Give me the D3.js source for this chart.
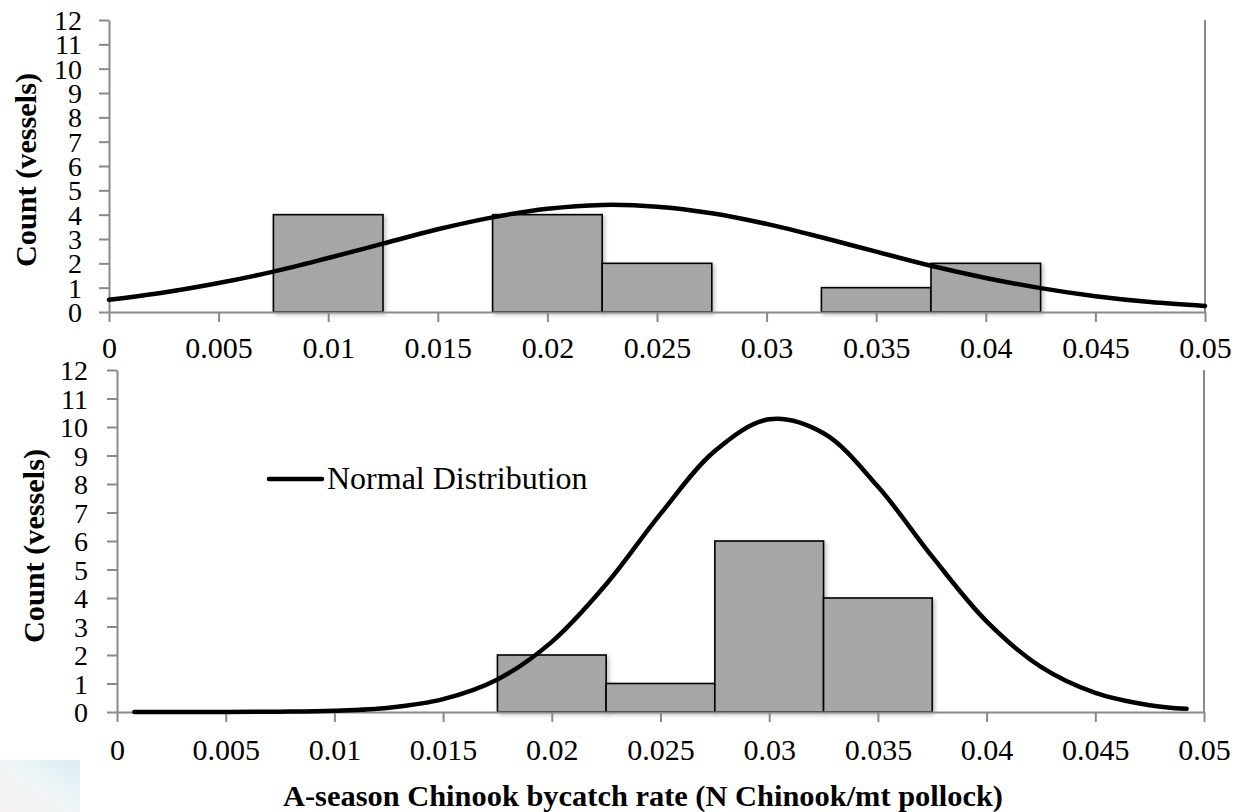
<!DOCTYPE html>
<html>
<head>
<meta charset="utf-8">
<script src="https://cdn.jsdelivr.net/npm/d3@7"></script>
<style>
  html, body { margin: 0; padding: 0; background: #ffffff; }
  svg { display: block; }
  text { font-family: "Liberation Serif", "Times New Roman", serif; fill: #000; }
</style>
</head>
<body>
<svg id="chart" width="1235" height="812"></svg>
<script>
// ---------------- DATA ----------------
const binWidth = 0.005;
const xTickValues = [0, 0.005, 0.01, 0.015, 0.02, 0.025, 0.03, 0.035, 0.04, 0.045, 0.05];
const xTickLabels = ["0", "0.005", "0.01", "0.015", "0.02", "0.025", "0.03", "0.035", "0.04", "0.045", "0.05"];
const yTickValues = [0, 1, 2, 3, 4, 5, 6, 7, 8, 9, 10, 11, 12];

// Top panel histogram (bin centres, counts)
const topBinCenters = [0.01, 0.02, 0.025, 0.035, 0.04];
const topCounts = [4, 4, 2, 1, 2];
// Top panel normal curve
const topCurveX = [0, 0.0025, 0.005, 0.0075, 0.01, 0.0125, 0.015, 0.0175, 0.02, 0.0225, 0.025, 0.0275, 0.03, 0.0325, 0.035, 0.0375, 0.04, 0.0425, 0.045, 0.0475, 0.05];
const topCurveY = [0.50, 0.80, 1.19, 1.66, 2.22, 2.81, 3.40, 3.89, 4.24, 4.40, 4.33, 4.06, 3.62, 3.07, 2.48, 1.90, 1.40, 0.98, 0.65, 0.41, 0.25];

// Bottom panel histogram
const botBinCenters = [0.02, 0.025, 0.03, 0.035];
const botCounts = [2, 1, 6, 4];
// Bottom panel normal curve
const botCurveX = [0.0008, 0.0025, 0.005, 0.0075, 0.01, 0.0125, 0.015, 0.0175, 0.02, 0.0225, 0.025, 0.0275, 0.03, 0.0325, 0.035, 0.0375, 0.04, 0.0425, 0.045, 0.0475, 0.0492];
const botCurveY = [0.0, 0.0, 0.002, 0.011, 0.044, 0.15, 0.45, 1.14, 2.46, 4.48, 6.95, 9.16, 10.27, 9.78, 7.91, 5.45, 3.18, 1.58, 0.67, 0.24, 0.11];

const yTitle = "Count (vessels)";
const xTitle = "A-season Chinook bycatch rate (N Chinook/mt pollock)";
const legendLabel = "Normal Distribution";

// ---------------- DRAW ----------------
const svg = d3.select("#chart");
const axisColor = "#898989";

const defs = svg.append("defs");
const sh = defs.append("filter").attr("id", "shadow").attr("x", "-10%").attr("y", "-10%").attr("width", "130%").attr("height", "130%");
sh.append("feDropShadow").attr("dx", 2).attr("dy", 2).attr("stdDeviation", 2)
  .attr("flood-color", "#000").attr("flood-opacity", 0.25);

const grad = defs.append("linearGradient").attr("id", "corner").attr("x1", "0").attr("y1", "1").attr("x2", "1").attr("y2", "0");
grad.append("stop").attr("offset", "0%").attr("stop-color", "#f7f1f1");
grad.append("stop").attr("offset", "55%").attr("stop-color", "#eef5f6");
grad.append("stop").attr("offset", "100%").attr("stop-color", "#d9edf3");
svg.append("rect").attr("x", 0).attr("y", 760).attr("width", 80).attr("height", 52).attr("fill", "url(#corner)");

function panel(cfg) {
  const x = d3.scaleLinear().domain([0, 0.05]).range([cfg.x0, cfg.x1]);
  const y = d3.scaleLinear().domain([0, 12]).range([cfg.y0, cfg.y1]);
  const g = svg.append("g");

  // right border line at x = 0.05
  g.append("line")
    .attr("x1", x(0.05)).attr("x2", x(0.05))
    .attr("y1", y(12)).attr("y2", y(0))
    .attr("stroke", axisColor).attr("stroke-width", 2);

  // bars
  g.append("g").selectAll("rect")
    .data(cfg.centers.map((c, i) => ({ c, v: cfg.counts[i] })))
    .join("rect")
    .attr("x", d => x(d.c - binWidth / 2))
    .attr("width", d => x(d.c + binWidth / 2) - x(d.c - binWidth / 2))
    .attr("y", d => y(d.v))
    .attr("height", d => y(0) - y(d.v))
    .attr("fill", "#a6a6a6")
    .attr("stroke", "#000")
    .attr("stroke-width", 1.6)
    .attr("filter", "url(#shadow)");

  // x axis
  const xa = g.append("g").attr("transform", `translate(0,${y(0)})`)
    .call(d3.axisBottom(x).tickValues(xTickValues)
      .tickFormat((d, i) => xTickLabels[i]).tickSize(10).tickSizeOuter(0));
  xa.select(".domain").attr("stroke", axisColor).attr("stroke-width", 2);
  xa.selectAll(".tick line").attr("stroke", axisColor).attr("stroke-width", 2);
  xa.selectAll(".tick text").attr("y", cfg.xLabelOffset).attr("dy", 0)
    .style("font-size", "30px").style("font-family", '"Liberation Serif", "Times New Roman", serif');

  // y axis
  const ya = g.append("g").attr("transform", `translate(${x(0)},0)`)
    .call(d3.axisLeft(y).tickValues(yTickValues).tickFormat(d3.format("d")).tickSize(10).tickSizeOuter(0));
  ya.select(".domain").attr("stroke", axisColor).attr("stroke-width", 2);
  ya.selectAll(".tick line").attr("stroke", axisColor).attr("stroke-width", 2);
  ya.selectAll(".tick text").attr("x", cfg.yLabelOffset).attr("dy", "0.34em")
    .style("font-size", "28px").style("font-family", '"Liberation Serif", "Times New Roman", serif');

  // curve
  const line = d3.line().x(d => x(d[0])).y(d => y(d[1])).curve(d3.curveCatmullRom.alpha(0.5));
  g.append("path")
    .datum(cfg.curveX.map((v, i) => [v, cfg.curveY[i]]))
    .attr("d", line)
    .attr("fill", "none").attr("stroke", "#000").attr("stroke-width", 4.5)
    .attr("stroke-linecap", "round");

  // y title
  g.append("text")
    .attr("transform", `translate(${cfg.titleX},${(y(0) + y(12)) / 2 + cfg.titleShift}) rotate(-90)`)
    .attr("text-anchor", "middle")
    .attr("textLength", 194).attr("lengthAdjust", "spacingAndGlyphs")
    .style("font-size", "30px").style("font-weight", "bold")
    .text(yTitle);
  return { x, y, g };
}

const topPanel = panel({
  x0: 109, x1: 1205, y0: 312, y1: 20,
  centers: topBinCenters, counts: topCounts,
  curveX: topCurveX, curveY: topCurveY,
  xLabelOffset: 46, yLabelOffset: -27, titleX: 36, titleShift: 4
});

const botPanel = panel({
  x0: 117, x1: 1204, y0: 712, y1: 370,
  centers: botBinCenters, counts: botCounts,
  curveX: botCurveX, curveY: botCurveY,
  xLabelOffset: 48, yLabelOffset: -29, titleX: 44, titleShift: 5
});

// legend (bottom panel)
svg.append("line").attr("x1", 269).attr("x2", 322).attr("y1", 479).attr("y2", 479)
  .attr("stroke", "#000").attr("stroke-width", 4.5).attr("stroke-linecap", "round");
svg.append("text").attr("x", 327).attr("y", 489)
  .style("font-size", "32px").text(legendLabel);

// x title
svg.append("text").attr("x", 643).attr("y", 806)
  .attr("text-anchor", "middle")
  .attr("textLength", 720).attr("lengthAdjust", "spacingAndGlyphs")
  .style("font-size", "30px").style("font-weight", "bold")
  .text(xTitle);
</script>
</body>
</html>
